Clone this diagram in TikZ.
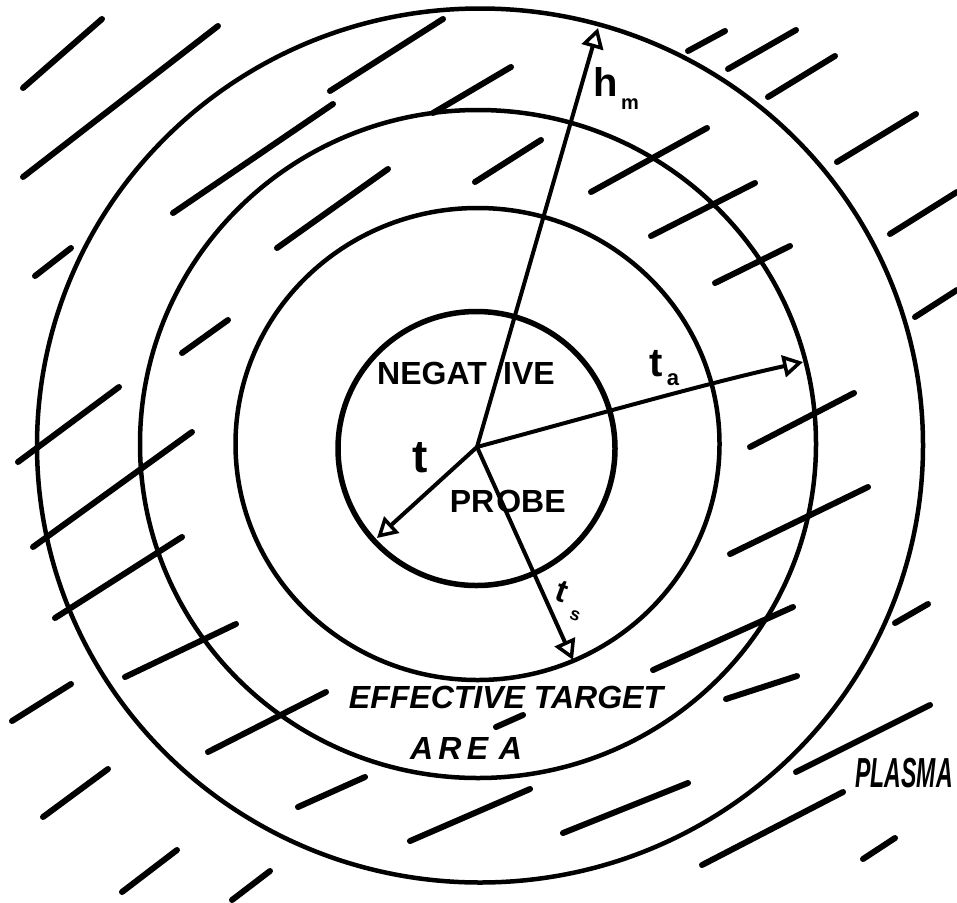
\documentclass[tikz,border=0pt]{standalone}
\usepackage{fontspec}
\setmainfont{Liberation Sans}
\usetikzlibrary{arrows.meta}
\tikzset{
  ring/.style={line width=4.5pt},
  hatch/.style={line width=6pt, line cap=round},
  radius arrow/.style={line width=4pt, -{Triangle[open, length=20pt, width=22pt, line width=3.5pt]}},
  lbl/.style={inner sep=0pt, font=\bfseries\fontsize{32}{32}\selectfont},
}
\begin{document}
\begin{tikzpicture}[x=1pt, y=-1pt]
\useasboundingbox (0,0) rectangle (957,902);
\fill[white] (0,0) rectangle (957,902);
% centres
\coordinate (O) at (477,447);
\coordinate (c1) at (476.5,448.5);
\coordinate (c2) at (477.5,444);
\coordinate (c3) at (478,444);
\coordinate (c4) at (480,445.5);
% rings
\draw[ring, line width=5.5pt] (c1) ellipse [x radius=138.5, y radius=137];
\draw[ring] (c2) ellipse [x radius=242, y radius=236];
\draw[ring] (c3) ellipse [x radius=338, y radius=334];
\draw[ring] (c4) ellipse [x radius=443, y radius=437];
% hatching
\foreach \a/\b in {
 {23,88}/{102,19}, {23,177}/{218,26}, {330,91}/{443,19}, {173,213}/{333,104},
 {433,113}/{511,67}, {277,248}/{388,169}, {475,182}/{541,140}, {35,276}/{71,248},
 {182,353}/{228,320}, {18,462}/{119,387}, {33,547}/{192,432}, {55,618}/{182,537},
 {125,677}/{236,624}, {12,721}/{71,684}, {208,752}/{326,692}, {43,817}/{108,769},
 {298,807}/{365,777}, {122,892}/{177,850}, {232,900}/{270,871}, {410,841}/{530,789},
 {730,554}/{868,487}, {653,670}/{793,607}, {726,699}/{797,676}, {895,623}/{928,604},
 {796,772}/{930,705}, {563,833}/{688,783}, {702,865}/{843,792}, {863,859}/{895,838},
 {496,727}/{523,715},
 {688,51}/{725,31}, {728,69}/{796,30}, {768,97}/{835,56}, {591,192}/{707,128},
 {837,162}/{916,114}, {651,236}/{755,183}, {890,234}/{957,192}, {715,283}/{790,246},
 {915,317}/{957,290}, {750,447}/{854,393}}
  \draw[hatch] (\a) -- (\b);
% radius arrows
\coordinate (hm) at (598,28);
\coordinate (ta) at (803,362);
\coordinate (tt) at (377,538);
\coordinate (ts) at (573,660);
\draw[radius arrow] (O) -- (hm);
\draw[radius arrow] (O) .. controls (613,410) and (716,381) .. (ta);
\draw[radius arrow] (O) -- (tt);
\draw[radius arrow] (O) -- (ts);
% labels
\node[lbl] (neg1) at (432,373) {NEGAT};
\node[lbl] (neg2) at (529,373) {IVE};
\node[lbl] (pr1) at (472,501) {PR};
\node[lbl] (pr2) at (531,501) {OBE};
\node[lbl, font=\bfseries\fontsize{46}{46}\selectfont] (tl) at (420,458) {t};
\node[lbl, font=\bfseries\fontsize{40}{40}\selectfont] (hl) at (606,82) {h};
\node[lbl, font=\bfseries\fontsize{20}{20}\selectfont] (hml) at (630,104) {m};
\node[lbl, font=\bfseries\fontsize{40}{40}\selectfont] (tal) at (656,364) {t};
\node[lbl, font=\bfseries\fontsize{22}{22}\selectfont] (tas) at (673,380) {a};
\node[lbl, font=\bfseries\fontsize{32}{32}\selectfont, rotate=-20] (tsl) at (562,592) {t};
\node[lbl, font=\bfseries\fontsize{18}{18}\selectfont, rotate=-20] (tss) at (575,616) {s};
\node[lbl, font=\bfseries\itshape\fontsize{32}{32}\selectfont] (eff) at (506,697) {EFFECTIVE TARGET};
\node[lbl, font=\bfseries\itshape\fontsize{32}{32}\selectfont] (area) at (466,748) {A\,R\,E\,\,A};
\node[lbl] (plasma) at (904,773) {\scalebox{0.55}[1]{\bfseries\itshape\fontsize{42}{42}\selectfont PLASMA}};
\end{tikzpicture}
\end{document}
